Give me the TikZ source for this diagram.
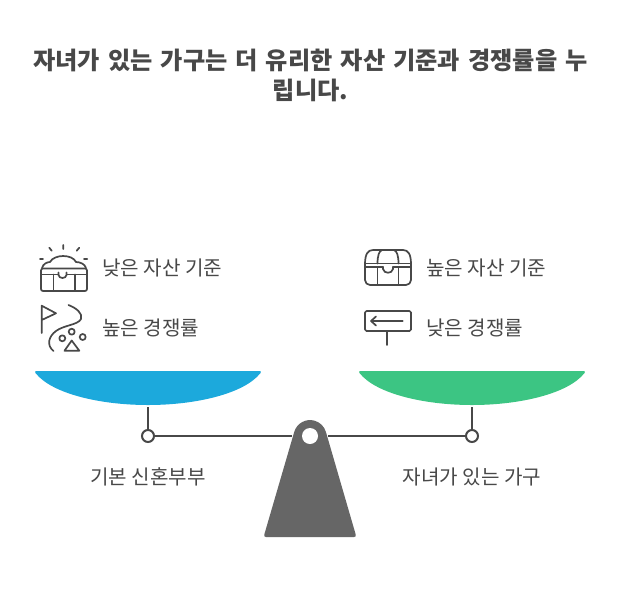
\documentclass[tikz,border=0pt]{standalone}
\usepackage{fontspec}
\setmainfont{Noto Sans CJK KR}
\definecolor{ink}{HTML}{484848}
\definecolor{base}{HTML}{666666}
\definecolor{bluebowl}{HTML}{1CA9DC}
\definecolor{greenbowl}{HTML}{3CC583}
\tikzset{
  ttl/.style={font=\fontsize{24.2}{33}\selectfont\bfseries, text=ink, align=center, inner sep=0pt},
  lbl/.style={font=\fontsize{20.1}{24}\selectfont, text=ink, inner sep=0pt},
  ico/.style={draw=ink, line width=1.7pt, line cap=round, line join=round},
  beam/.style={draw=ink, line width=2pt},
  joint/.style={circle, draw=ink, line width=2pt, fill=white, minimum size=12pt, inner sep=0pt}
}
\begin{document}
\begin{tikzpicture}[x=1pt,y=-1pt]
\useasboundingbox (0,0) rectangle (617,595);
\fill[white] (0,0) rectangle (617,595);
\node[ttl, text width=590pt] (title) at (310.5,75.5) {자녀가 있는 가구는 더 유리한 자산 기준과 경쟁률을 누\\[-3pt]립니다.};
% bowls
\path[fill=bluebowl] (36.5,371) -- (259.5,371) .. controls (261,371) and (261.5,372) .. (260.5,373) .. controls (244,394) and (195,405) .. (148,405) .. controls (101,405) and (52,394) .. (35.5,373) .. controls (34.5,372) and (35,371) .. (36.5,371) -- cycle;
\path[fill=greenbowl] (360.5,371) -- (583.5,371) .. controls (585,371) and (585.5,372) .. (584.5,373) .. controls (568,394) and (519,405) .. (472,405) .. controls (425,405) and (376,394) .. (359.5,373) .. controls (358.5,372) and (359,371) .. (360.5,371) -- cycle;
\coordinate (lbowl) at (148,407);
\coordinate (rbowl) at (472,407);
% base
\path[fill=base] (266,537) .. controls (264.3,537) and (263.8,536) .. (264.3,534.5) -- (294.2,432) arc[start angle=196, end angle=344, radius=16.5] -- (355.7,534.5) .. controls (356.2,536) and (355.7,537) .. (354,537) -- cycle;
\fill[white] (310,436) circle[radius=8];
\coordinate (lhub) at (292,436);
\coordinate (rhub) at (328,436);
\node[joint] (lj) at (148,436) {};
\node[joint] (rj) at (472,436) {};
\draw[beam] (lbowl) -- (lj);
\draw[beam] (rbowl) -- (rj);
\draw[beam] (lj) -- (lhub);
\draw[beam] (rj) -- (rhub);
% labels
\node[lbl] (a) at (148,477) {기본 신혼부부};
\node[lbl] (b) at (472,477) {자녀가 있는 가구};
\node[lbl, anchor=west] (c) at (102,268) {낮은 자산 기준};
\node[lbl, anchor=west] (d) at (102,328) {높은 경쟁률};
\node[lbl, anchor=west] (e) at (426,268) {높은 자산 기준};
\node[lbl, anchor=west] (f) at (426,328) {낮은 경쟁률};
% left chest
\draw[ico, rounded corners=2pt] (41,268.5) -- (41,291) -- (87,291) -- (87,268.5) -- cycle;
\draw[ico] (41,274.5) -- (58.5,274.5) (67,274.5) -- (87,274.5);
\draw[ico] (53.5,274.5) -- (53.5,291) (75,274.5) -- (75,291);
\draw[ico] (58.5,272.5) -- (58.5,275) .. controls (59,279) and (66,279) .. (66.5,275) -- (66.5,272.5);
\draw[ico] (42,268) .. controls (43,264) and (47,262) .. (50,262) .. controls (52,258) and (58,256) .. (63,256) .. controls (69,256) and (74,258) .. (76,262) .. controls (80,262) and (85,264) .. (86,268);
\draw[ico] (63.3,245) -- (63.3,249) (49.3,247.7) -- (51.7,250.7) (79.3,247.7) -- (76.7,250.7) (40,259) -- (43,259) (84,259) -- (87.3,259);
% flag and road
\draw[ico] (41.7,333) -- (41.7,305.7) -- (56,313.3) -- (41.7,320);
\draw[ico] (68.5,305) .. controls (76,308) and (83,313) .. (81,319) .. controls (78,325) and (64,325) .. (56,331) .. controls (49,336) and (46,345) .. (53.5,351);
\draw[ico] (71.7,331.7) circle[radius=3] (62.3,338.3) circle[radius=3] (82.7,337) circle[radius=3];
\draw[ico] (71.7,340.5) -- (64.5,350.7) -- (79.3,350.7) -- cycle;
% right chest
\draw[ico, rounded corners=5pt] (365,263.5) -- (365,285) -- (411,285) -- (411,263.5);
\draw[ico] (365,264) .. controls (365,254) and (368,250) .. (373,250) -- (403,250) .. controls (408,250) and (411,254) .. (411,264);
\draw[ico] (365,263.5) -- (411,263.5) (365,267) -- (383,267) (393,267) -- (411,267);
\draw[ico] (377.5,263.5) .. controls (377.5,256) and (379,251) .. (382,250) (398.5,263.5) .. controls (398.5,256) and (397,251) .. (394,250);
\draw[ico] (377.5,267) -- (377.5,285) (398.5,267) -- (398.5,285);
\draw[ico] (383,267) -- (383,269) .. controls (384,274) and (392,274) .. (393,269) -- (393,267);
% sign
\draw[ico, rounded corners=1.5pt] (365,311) rectangle (411,331);
\draw[ico] (386.7,331) -- (386.7,345);
\draw[ico] (402.7,321) -- (371,321) (376,316.5) -- (371,321) -- (376,325.5);
\end{tikzpicture}
\end{document}
